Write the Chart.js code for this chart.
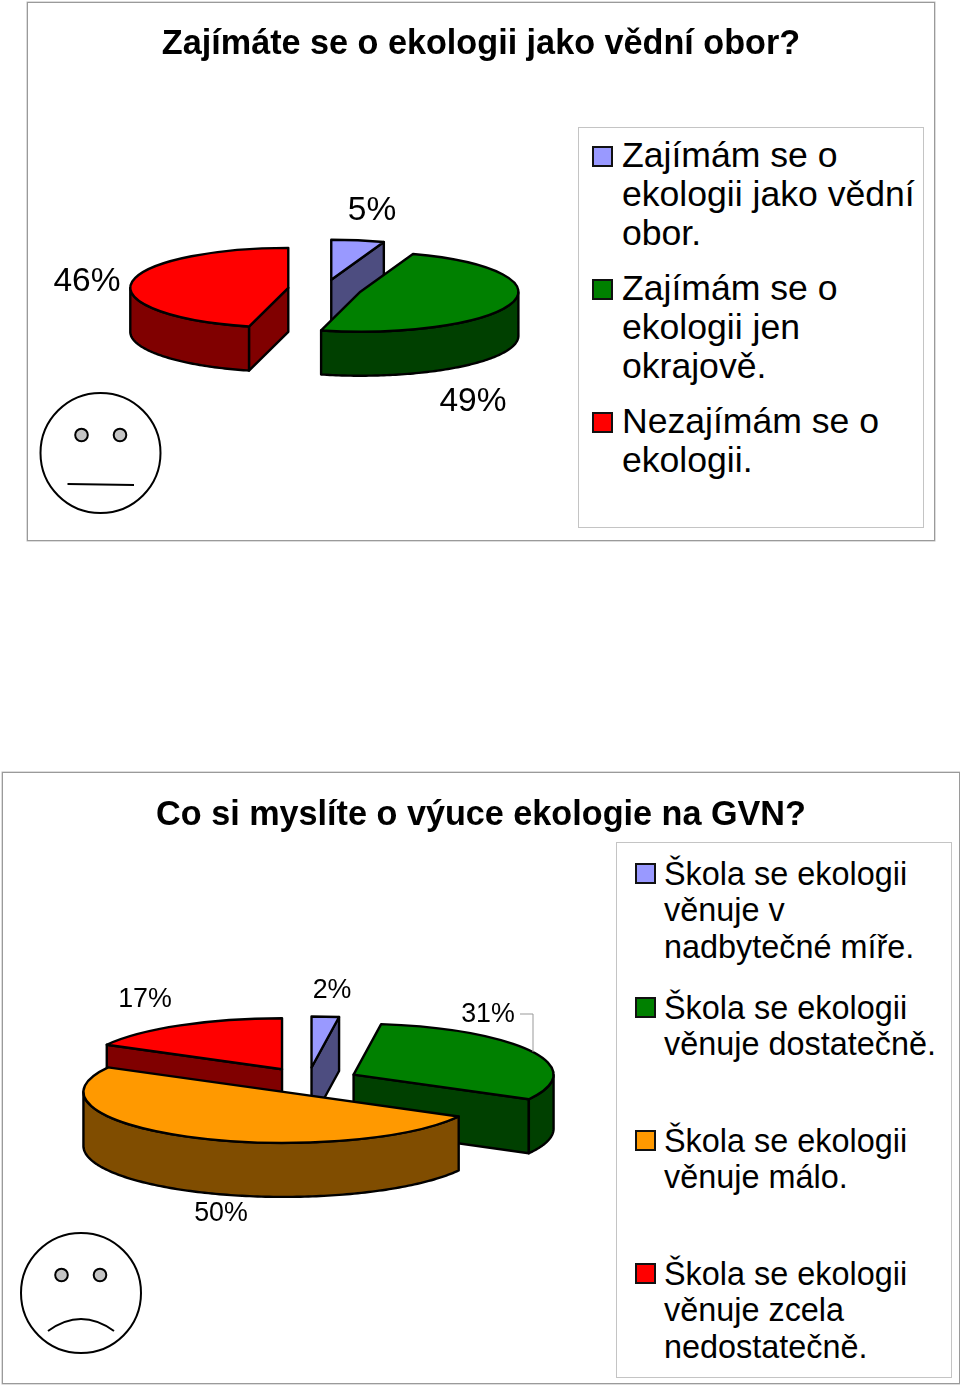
<!DOCTYPE html>
<html><head><meta charset="utf-8">
<script src="https://cdn.jsdelivr.net/npm/chart.js@4"></script>
<style>
html,body{margin:0;padding:0;background:#fff;}
body{position:relative;width:960px;height:1387px;overflow:hidden;font-family:"Liberation Sans",Arial,sans-serif;color:#000;}
.frame{position:absolute;border:1px solid #9a9a9a;box-shadow:0 0 0 .5px #bbb;box-sizing:border-box;}
canvas{position:absolute;display:block;}
.lbox{position:absolute;border:1px solid #c4c4c4;box-sizing:border-box;background:#fff;}
.item{position:absolute;white-space:nowrap;}
.mark{position:absolute;box-sizing:border-box;border:2px solid #111;}
</style></head><body>
<script>
// ---------- data ----------
const title1 = "Zajímáte se o ekologii jako vědní obor?";
const categories1 = [["Zajímám se o","ekologii jako vědní","obor."],["Zajímám se o","ekologii jen","okrajově."],["Nezajímám se o","ekologii."]];
const values1 = [5.4, 48.6, 46];
const colors1 = ["#9999FF", "#008000", "#FF0000"];
const walls1 = ["#4D4D80", "#004000", "#800000"];

const title2 = "Co si myslíte o výuce ekologie na GVN?";
const categories2 = [["Škola se ekologii","věnuje v","nadbytečné míře."],["Škola se ekologii","věnuje dostatečně."],["Škola se ekologii","věnuje málo."],["Škola se ekologii","věnuje zcela","nedostatečně."]];
const values2 = [2.2, 30.8, 50, 17];
const colors2 = ["#9999FF", "#008000", "#FF9900", "#FF0000"];
const walls2 = ["#4D4D80", "#004000", "#804D00", "#800000"];

// ---------- layout / style ----------
const FONT = '"Liberation Sans", Arial, sans-serif';
const layouts = [{
  frame:{x:27,y:2,w:908,h:539}, center:{x:325,y:289}, radius:158, squash:40/158, depth:44, explode:37,
  order:[0,2,1], labelSize:33.5, labels:[[372,211],[473,402],[87,282]], titleTop:22,
  face:{cx:100.5,cy:453,r:60,eyes:[[81.5,435],[120,435]],sad:false},
  box:{x:578,y:127,w:346,h:401}, fontSize:35.6, lineH:39.2, itemY:[136,269,402], markX:592, textX:622, markS:21, markDy:10
},{
  frame:{x:2,y:772,w:958,h:612}, center:{x:308,y:1080.5}, radius:200, squash:51/200, depth:54, explode:51,
  order:[0,3,1,2], labelSize:26.8, labels:[[332,991],[488,1015],[221,1214],[145,1000]], titleTop:23.5,
  leader:[[520,1014],[533,1014],[533,1052]],
  face:{cx:81,cy:1293,r:60,eyes:[[61.5,1275],[100,1275]],sad:true},
  box:{x:616,y:842,w:336,h:536}, fontSize:32.4, lineH:36.4, itemY:[856,990,1123,1256], markX:635, textX:664, markS:21, markDy:7
}];

// Extruded, exploded, squashed pie painted from the library's own arc elements.
const pie3d = {
  id:'pie3d',
  beforeDatasetDraw(chart, args, opts){
    const L = opts.layout, ctx = chart.ctx, F = L.frame;
    const arcs = chart.getDatasetMeta(0).data;
    const outline = () => { ctx.lineWidth = 2.4; ctx.strokeStyle = '#000'; ctx.lineJoin='round'; ctx.stroke(); };
    const info = arcs.map(a => {
      const mid = (a.startAngle + a.endAngle) / 2;
      const sx = L.center.x - F.x + Math.cos(mid) * L.explode;
      const sy = L.center.y - F.y + Math.sin(mid) * L.explode * L.squash;
      const pt = (t, dz=0) => [sx + Math.cos(t) * a.outerRadius, sy + Math.sin(t) * a.outerRadius * L.squash + dz];
      return {a, sx, sy, pt};
    });
    const quad = (pts, fill) => {
      ctx.beginPath(); pts.forEach((p,i)=> i ? ctx.lineTo(p[0],p[1]) : ctx.moveTo(p[0],p[1]));
      ctx.closePath(); ctx.fillStyle = fill; ctx.fill(); outline();
    };
    L.order.forEach(i => {
      const {a, sx, sy, pt} = info[i], d = L.depth, wall = opts.walls[i];
      const c0 = [sx, sy], c1 = [sx, sy + d];
      // radial cut faces
      if (Math.cos(a.startAngle) < -1e-6) { const r0 = pt(a.startAngle), r1 = pt(a.startAngle, d); quad([c0, r0, r1, c1], wall); }
      if (Math.cos(a.endAngle) > 1e-6) { const r0 = pt(a.endAngle), r1 = pt(a.endAngle, d); quad([c0, r0, r1, c1], wall); }
      // outer rim: front-facing part only
      const top = [], bot = [];
      const N = 160;
      for (let k = 0; k <= N; k++) {
        const t = a.startAngle + (a.endAngle - a.startAngle) * k / N;
        if (Math.sin(t) >= -0.002) { top.push(pt(t)); bot.unshift(pt(t, d)); }
      }
      if (top.length > 1) quad(top.concat(bot), wall);
    });
    L.order.forEach(i => {
      const {a, sx, sy} = info[i];
      const place = () => { ctx.translate(sx, sy); ctx.scale(1, L.squash); ctx.translate(-a.x, -a.y); };
      ctx.save(); place(); a.draw(ctx, chart.chartArea); ctx.restore();
      ctx.save(); place();
      ctx.beginPath(); ctx.moveTo(a.x, a.y); ctx.arc(a.x, a.y, a.outerRadius, a.startAngle, a.endAngle); ctx.closePath();
      ctx.restore(); outline();
    });
    return false;
  },
  afterDraw(chart, args, opts){
    const L = opts.layout, ctx = chart.ctx, F = L.frame, vals = chart.data.datasets[0].data;
    ctx.save();
    ctx.fillStyle = '#000'; ctx.textAlign = 'center'; ctx.textBaseline = 'middle';
    ctx.font = L.labelSize + 'px ' + FONT;
    vals.forEach((v,i) => ctx.fillText(Math.round(v) + '%', L.labels[i][0]-F.x, L.labels[i][1]-F.y));
    if (L.leader) {
      ctx.strokeStyle = '#999'; ctx.lineWidth = 1; ctx.beginPath();
      L.leader.forEach((p,i)=> i ? ctx.lineTo(p[0]-F.x,p[1]-F.y) : ctx.moveTo(p[0]-F.x,p[1]-F.y)); ctx.stroke();
    }
    const f = L.face, cx = f.cx-F.x, cy = f.cy-F.y;
    ctx.strokeStyle = '#000'; ctx.lineWidth = 2;
    ctx.beginPath(); ctx.arc(cx, cy, f.r, 0, Math.PI*2); ctx.fillStyle='#fff'; ctx.fill(); ctx.stroke();
    f.eyes.forEach(e => { ctx.beginPath(); ctx.arc(e[0]-F.x, e[1]-F.y, 6.3, 0, Math.PI*2); ctx.fillStyle='#c4c4c4'; ctx.fill(); ctx.stroke(); });
    ctx.beginPath();
    if (f.sad) { ctx.moveTo(cx-33, cy+38); ctx.quadraticCurveTo(cx, cy+14, cx+33, cy+38); }
    else { ctx.moveTo(cx-33, cy+31); ctx.lineTo(cx+33.5, cy+32); }
    ctx.stroke();
    ctx.restore();
  }
};

function buildChart(L, title, cats, vals, cols, walls){
  const fr = document.createElement('div'); fr.className='frame';
  fr.style.cssText = `left:${L.frame.x}px;top:${L.frame.y}px;width:${L.frame.w}px;height:${L.frame.h}px`;
  document.body.appendChild(fr);
  const c = document.createElement('canvas');
  c.width = L.frame.w; c.height = L.frame.h;
  c.style.cssText = `left:${L.frame.x}px;top:${L.frame.y}px;width:${L.frame.w}px;height:${L.frame.h}px`;
  document.body.appendChild(c);
  new Chart(c, {
    type:'pie',
    data:{labels:cats.map(x=>x.join(' ')), datasets:[{data:vals, backgroundColor:cols, borderWidth:0}]},
    plugins:[pie3d],
    options:{
      responsive:false, animation:false, devicePixelRatio:1, radius:L.radius,
      events:[],
      plugins:{
        legend:{display:false}, tooltip:{enabled:false},
        title:{display:true, text:title, color:'#000', font:{family:FONT,size:34.2,weight:'bold',lineHeight:1.2}, padding:{top:L.titleTop,bottom:0}},
        pie3d:{layout:L, walls}
      }
    }
  });
  const box = document.createElement('div'); box.className='lbox';
  box.style.cssText = `left:${L.box.x}px;top:${L.box.y}px;width:${L.box.w}px;height:${L.box.h}px`;
  document.body.appendChild(box);
  cats.forEach((lines,i)=>{
    const m = document.createElement('div'); m.className='mark';
    m.style.cssText = `left:${L.markX}px;top:${L.itemY[i]+L.markDy}px;width:${L.markS}px;height:${L.markS}px;background:${cols[i]}`;
    document.body.appendChild(m);
    const t = document.createElement('div'); t.className='item';
    t.style.cssText = `left:${L.textX}px;top:${L.itemY[i]}px;font-size:${L.fontSize}px;line-height:${L.lineH}px`;
    lines.forEach((s,j)=>{ if(j) t.appendChild(document.createElement('br')); t.appendChild(document.createTextNode(s)); });
    document.body.appendChild(t);
  });
}
buildChart(layouts[0], title1, categories1, values1, colors1, walls1);
buildChart(layouts[1], title2, categories2, values2, colors2, walls2);
</script>
</body></html>
